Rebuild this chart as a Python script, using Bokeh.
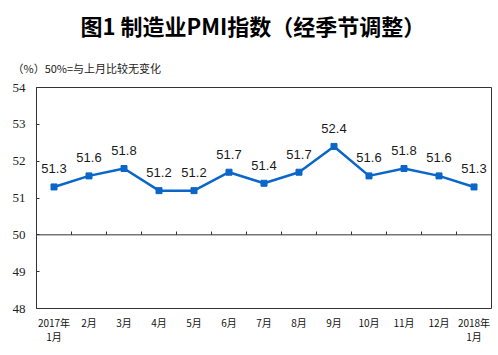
from bokeh.plotting import figure
from bokeh.models import FactorRange, Range1d, FixedTicker, Title, ColumnDataSource, Span
from bokeh.core.properties import value
from bokeh.embed import file_html
from bokeh.resources import INLINE

months = ["2017年\n1月", "2月", "3月", "4月", "5月", "6月", "7月", "8月", "9月",
          "10月", "11月", "12月", "2018年\n1月"]
pmi = [51.3, 51.6, 51.8, 51.2, 51.2, 51.7, 51.4, 51.7, 52.4, 51.6, 51.8, 51.6, 51.3]
y_ticks = [48, 49, 50, 51, 52, 53, 54]
baseline = 50
title_text = "图1 制造业PMI指数（经季节调整）"
subtitle_text = "（%）50%=与上月比较无变化"

BLUE = "#0a66c8"

p = figure(width=498, height=355, output_backend="svg", toolbar_location=None,
           x_range=FactorRange(factors=months, range_padding=0),
           y_range=Range1d(y_ticks[0], y_ticks[-1]),
           min_border_left=36, min_border_right=7, min_border_top=87, min_border_bottom=47)
p.title = Title(text=title_text, align="left", offset=44, text_font="Noto Sans CJK SC",
                text_font_style="bold", text_font_size="22px", text_color="#000000",
                text_line_height=0.9, standoff=9)
p.add_layout(Title(text=subtitle_text, align="left", offset=-24, text_font="Noto Sans CJK SC",
                   text_font_style="normal", text_font_size="11px", text_color="#222222",
                   text_line_height=0.9, standoff=24), "above")
p.outline_line_color = "#333333"
p.outline_line_width = 1
p.xgrid.grid_line_color = None
p.ygrid.grid_line_color = None
p.background_fill_color = "white"
p.border_fill_color = "white"

# y axis
p.yaxis.ticker = FixedTicker(ticks=y_ticks)
p.yaxis.major_tick_in = 3
p.yaxis.major_tick_out = 0
p.yaxis.minor_tick_line_color = None
p.yaxis.axis_line_color = "#333333"
p.yaxis.major_tick_line_color = "#333333"
p.yaxis.major_label_text_font = "'Liberation Serif', serif"
p.yaxis.major_label_text_font_size = "13px"
p.yaxis.major_label_text_color = "#222222"
p.yaxis.major_label_standoff = 11

# x axis
p.xaxis.major_tick_line_color = None
p.xaxis.minor_tick_line_color = None
p.xaxis.axis_line_color = None
p.xaxis.major_label_text_font = "Noto Sans CJK SC"
p.xaxis.major_label_text_font_size = "10px"
p.xaxis.major_label_text_color = "#111111"
p.xaxis.major_label_text_line_height = 0.95
p.xaxis.major_label_standoff = 0

# baseline at 50 with upward ticks between months
p.add_layout(Span(location=baseline, dimension="width", line_color="#333333", line_width=1))
tick_x = [(m, 0.5) for m in months[:-1]]
p.segment(x0=tick_x, x1=tick_x, y0=[baseline] * len(tick_x), y1=[baseline + 0.09] * len(tick_x),
          line_color="#333333", line_width=1)

src = ColumnDataSource(dict(x=months, y=pmi, lab=[f"{v:.1f}" for v in pmi]))
p.line("x", "y", source=src, line_color=BLUE, line_width=2.5)
p.scatter("x", "y", source=src, marker="square", size=6, fill_color=BLUE, line_color=BLUE)
p.text("x", "y", text="lab", source=src, text_align="center", text_baseline="middle",
       y_offset=-18, text_font=value("Liberation Sans"), text_font_size="13px", text_color="#1a1a1a")

open("out.html", "w").write(file_html(p, INLINE))
